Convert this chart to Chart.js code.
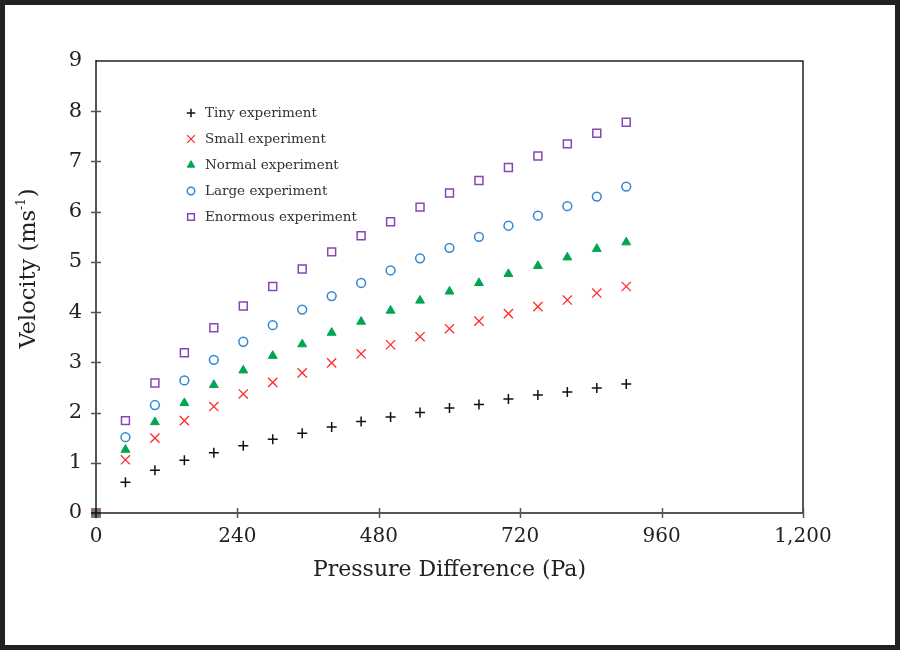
<!DOCTYPE html>
<html lang="en">
<head>
    <meta charset="UTF-8">
    <title>Velocity vs Pressure Difference</title>
    <script src="https://cdn.jsdelivr.net/npm/chart.js"></script>
    <style>
        html, body { margin: 0; padding: 0; background: #222; }
        .frame { position: absolute; left: 5px; top: 5px; width: 890px; height: 640px; background: #fff; }
    </style>
</head>
<body>
    <div class="frame"><canvas id="myChart" width="890" height="640"></canvas></div>
    <script>
        // pressure difference (Pa)
        const pressure = [0, 50, 100, 150, 200, 250, 300, 350, 400, 450, 500, 550, 600, 650, 700, 750, 800, 850, 900];

        // velocities (ms-1)
        const tiny     = [0, 0.61, 0.85, 1.05, 1.20, 1.34, 1.47, 1.59, 1.71, 1.82, 1.91, 2.00, 2.09, 2.16, 2.27, 2.35, 2.41, 2.49, 2.57];
        const small    = [0, 1.06, 1.49, 1.84, 2.12, 2.37, 2.60, 2.79, 2.99, 3.17, 3.35, 3.51, 3.67, 3.82, 3.97, 4.11, 4.24, 4.38, 4.51];
        const normal   = [0, 1.26, 1.81, 2.19, 2.55, 2.84, 3.13, 3.36, 3.59, 3.81, 4.03, 4.23, 4.41, 4.58, 4.76, 4.92, 5.09, 5.26, 5.39];
        const large    = [0, 1.51, 2.15, 2.64, 3.05, 3.41, 3.74, 4.05, 4.32, 4.58, 4.83, 5.07, 5.28, 5.50, 5.72, 5.92, 6.11, 6.30, 6.50];
        const enormous = [0, 1.84, 2.59, 3.19, 3.69, 4.12, 4.51, 4.86, 5.20, 5.52, 5.80, 6.09, 6.37, 6.62, 6.88, 7.11, 7.35, 7.56, 7.78];

        const seriesNames = ['Tiny experiment', 'Small experiment', 'Normal experiment', 'Large experiment', 'Enormous experiment'];
        const xTickStep = 240;
        const yTickStep = 1;

        const serif = '"DejaVu Serif", "Liberation Serif", serif';
        const axisGrey = '#555';

        function pts(ys) {
            return pressure.map((x, i) => ({ x: x, y: ys[i] }));
        }

        function makeSet(label, ys, style, color, radius, fill, width) {
            return {
                label: label,
                data: pts(ys),
                pointStyle: style,
                pointRadius: radius,
                pointHoverRadius: radius,
                borderColor: color,
                backgroundColor: fill ? color : 'rgba(0,0,0,0)',
                pointBorderWidth: width,
                borderWidth: width,
                clip: false
            };
        }

        // ticks that cross the axis line + top/right frame + y title
        const framePlugin = {
            id: 'frame',
            afterDraw(chart) {
                const ctx = chart.ctx;
                const a = chart.chartArea;
                const xs = chart.scales.x, ys = chart.scales.y;
                ctx.save();
                ctx.strokeStyle = '#222';
                ctx.lineWidth = 1.5;
                ctx.beginPath();
                ctx.moveTo(a.left, a.top);
                ctx.lineTo(a.right, a.top);
                ctx.lineTo(a.right, a.bottom);
                ctx.stroke();

                ctx.strokeStyle = axisGrey;
                ctx.lineWidth = 1.5;
                ctx.beginPath();
                xs.ticks.forEach(t => {
                    if (t.value === 0) return;
                    const px = Math.round(xs.getPixelForValue(t.value)) + 0.5;
                    ctx.moveTo(px, a.bottom - 5);
                    ctx.lineTo(px, a.bottom + 5);
                });
                ys.ticks.forEach(t => {
                    if (t.value === 0 || t.value === 9) return;
                    const py = Math.round(ys.getPixelForValue(t.value)) + 0.5;
                    ctx.moveTo(a.left - 5, py);
                    ctx.lineTo(a.left + 5, py);
                });
                ctx.stroke();

                // y title with superscript
                ctx.translate(24, 264);
                ctx.rotate(-Math.PI / 2);
                ctx.fillStyle = '#222';
                ctx.textBaseline = 'middle';
                const main = 'Velocity (ms';
                ctx.font = '12px ' + serif;
                const supW = ctx.measureText('-1').width;
                ctx.font = '22.5px ' + serif;
                const mainW = ctx.measureText(main).width;
                const closeW = ctx.measureText(')').width;
                let x0 = -(mainW + supW + closeW) / 2;
                ctx.textAlign = 'left';
                ctx.fillText(main, x0, 0);
                ctx.fillText(')', x0 + mainW + supW + 1, 0);
                ctx.font = '12px ' + serif;
                ctx.fillText('-1', x0 + mainW, -7);
                ctx.restore();
            }
        };

        // legend drawn inside the plot area
        const insideLegend = {
            id: 'insideLegend',
            afterDraw(chart) {
                const ctx = chart.ctx;
                ctx.save();
                chart.data.datasets.forEach((ds, i) => {
                    const y = 108 + i * 26;
                    ctx.strokeStyle = ds.borderColor;
                    ctx.fillStyle = ds.backgroundColor;
                    ctx.lineWidth = ds.pointBorderWidth;
                    Chart.helpers.drawPoint(ctx, {
                        pointStyle: ds.pointStyle,
                        radius: ds.pointRadius * 0.85,
                        borderWidth: ds.pointBorderWidth,
                        rotation: 0
                    }, 186, y);
                    ctx.fillStyle = '#333';
                    ctx.font = '13.5px ' + serif;
                    ctx.textBaseline = 'middle';
                    ctx.textAlign = 'left';
                    ctx.fillText(ds.label, 200, y);
                });
                ctx.restore();
            }
        };

        const ctx = document.getElementById('myChart').getContext('2d');
        new Chart(ctx, {
            type: 'scatter',
            data: {
                datasets: [
                    makeSet(seriesNames[0], tiny, 'cross', '#111', 5, false, 1.5),
                    makeSet(seriesNames[1], small, 'crossRot', '#ff2a2a', 6.5, false, 1.3),
                    makeSet(seriesNames[2], normal, 'triangle', '#00a651', 5.1, true, 1),
                    makeSet(seriesNames[3], large, 'circle', '#2f86d6', 4.4, false, 1.5),
                    makeSet(seriesNames[4], enormous, 'rect', '#8546b8', 5.6, false, 1.5)
                ]
            },
            options: {
                responsive: false,
                animation: false,
                layout: { padding: { top: 56, right: 92, bottom: 0, left: 0 } },
                plugins: {
                    legend: { display: false },
                    tooltip: { enabled: false }
                },
                scales: {
                    x: {
                        type: 'linear',
                        min: 0,
                        max: 1200,
                        afterFit(scale) { scale.height = 132; },
                        grid: { display: true, drawOnChartArea: false, drawTicks: false },
                        border: { color: axisGrey, width: 2 },
                        ticks: {
                            stepSize: xTickStep,
                            padding: 12,
                            color: '#222',
                            font: { family: serif, size: 20 }
                        },
                        title: {
                            display: true,
                            text: 'Pressure Difference (Pa)',
                            color: '#222',
                            font: { family: serif, size: 22 },
                            padding: { top: 0, bottom: 62 }
                        }
                    },
                    y: {
                        type: 'linear',
                        min: 0,
                        max: 9,
                        afterFit(scale) { scale.width = 91; },
                        grid: { display: true, drawOnChartArea: false, drawTicks: false },
                        border: { color: axisGrey, width: 2 },
                        ticks: {
                            stepSize: yTickStep,
                            padding: 14,
                            color: '#222',
                            font: { family: serif, size: 21 }
                        }
                    }
                }
            },
            plugins: [framePlugin, insideLegend]
        });
    </script>
</body>
</html>
